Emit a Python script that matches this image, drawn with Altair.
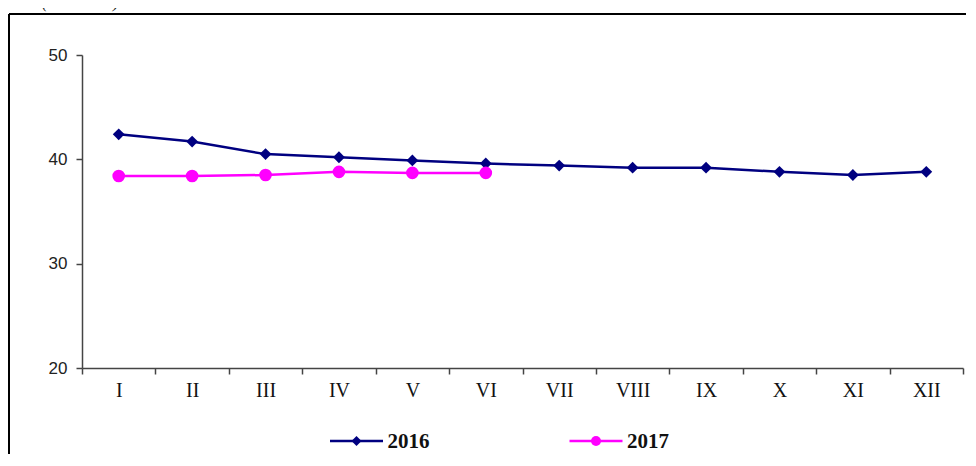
import altair as alt
import pandas as pd

months = ["I", "II", "III", "IV", "V", "VI", "VII", "VIII", "IX", "X", "XI", "XII"]
years = ["2016", "2017"]
values_2016 = [42.4, 41.7, 40.5, 40.2, 39.9, 39.6, 39.4, 39.2, 39.2, 38.8, 38.5, 38.8]
values_2017 = [38.4, 38.4, 38.5, 38.8, 38.7, 38.7]
colors = ["#000080", "#FF00FF"]
shapes = ["diamond", "circle"]
y_ticks = [20, 30, 40, 50]
unit_note = "(сомоваке)"

rows = []
for yr, vals in zip(years, [values_2016, values_2017]):
    for i, v in enumerate(vals):
        rows.append({"year": yr, "month": months[i], "pos": i + 0.5, "value": v})
df = pd.DataFrame(rows)

W, H = 881, 313
band = W / len(months)

label_list = "[" + ",".join("'%s'" % m for m in months) + "]"
x_enc = alt.X(
    "pos:Q",
    scale=alt.Scale(domain=[0, len(months)], nice=False, zero=False),
    axis=alt.Axis(
        values=list(range(len(months) + 1)),
        labelExpr="datum.value < %d ? %s[datum.value] : ''" % (len(months), label_list),
        labelOffset=band / 2,
        labelFlush=False,
        labelOverlap=False,
        labelFont="Liberation Serif",
        labelFontSize=20,
        labelColor="#111",
        labelPadding=6,
        tickSize=6,
        tickColor="#444",
        tickWidth=1.5,
        domainColor="#444",
        domainWidth=1.5,
        grid=False,
        title=None,
    ),
)
y_enc = alt.Y(
    "value:Q",
    scale=alt.Scale(domain=[20, 50], nice=False, zero=False),
    axis=alt.Axis(
        values=y_ticks,
        labelFont="Liberation Sans",
        labelFontSize=17,
        labelColor="#222",
        labelPadding=9,
        tickSize=6,
        tickColor="#444",
        tickWidth=1.5,
        domainColor="#444",
        domainWidth=1.5,
        grid=False,
        title=None,
    ),
)

color_scale = alt.Scale(domain=years, range=colors)

lines = alt.Chart(df).mark_line(strokeWidth=2.5).encode(
    x=x_enc,
    y=y_enc,
    color=alt.Color("year:N", scale=color_scale, legend=None),
    detail="year:N",
)

points = alt.Chart(df).mark_point(filled=True, opacity=1).encode(
    x="pos:Q",
    y="value:Q",
    color=alt.Color("year:N", scale=color_scale, legend=None),
    shape=alt.Shape("year:N", scale=alt.Scale(domain=years, range=shapes), legend=None),
    size=alt.Size("year:N", scale=alt.Scale(domain=years, range=[140, 160]), legend=None),
)

# legend (drawn as decoration below the plot)
legend_centers = [274.5, 514]
legend_y = 386
legend_layers = []
for yr, col, shp, cx in zip(years, colors, shapes, legend_centers):
    one = pd.DataFrame({"year": [yr]})
    legend_layers.append(
        alt.Chart(one).mark_rule(color=col, strokeWidth=2.5).encode(
            x=alt.value(cx - 26.5), x2=alt.value(cx + 26.5), y=alt.value(legend_y)
        )
    )
    legend_layers.append(
        alt.Chart(one).mark_point(filled=True, opacity=1, color=col, shape=shp, size=100).encode(
            x=alt.value(cx), y=alt.value(legend_y)
        )
    )
    legend_layers.append(
        alt.Chart(one).mark_text(
            align="left", baseline="middle", font="Liberation Serif",
            fontSize=21, fontWeight="bold", color="#111"
        ).encode(x=alt.value(cx + 31), y=alt.value(legend_y + 1), text="year:N")
    )

frame_df = pd.DataFrame({"k": [0]})
left_border = alt.Chart(frame_df).mark_rule(color="#000", strokeWidth=2).encode(
    x=alt.value(-73), y=alt.value(-41), y2=alt.value(H + 200)
)
top_border = alt.Chart(frame_df).mark_rule(color="#000", strokeWidth=2).encode(
    x=alt.value(-73), x2=alt.value(W + 200), y=alt.value(-41)
)
note = alt.Chart(pd.DataFrame({"t": [unit_note]})).mark_text(
    align="left", baseline="alphabetic", font="Liberation Serif",
    fontStyle="italic", fontSize=17, color="#222"
).encode(x=alt.value(-40), y=alt.value(-47), text="t:N")

chart = alt.layer(left_border, top_border, note, lines, points, *legend_layers).properties(
    width=W,
    height=H,
    background="white",
    autosize=alt.AutoSizeParams(type="none"),
    padding={"left": 74, "top": 47, "right": 3, "bottom": 86},
).configure_view(stroke=None)

chart.save("out.html", embed_options={"renderer": "svg", "actions": False})
